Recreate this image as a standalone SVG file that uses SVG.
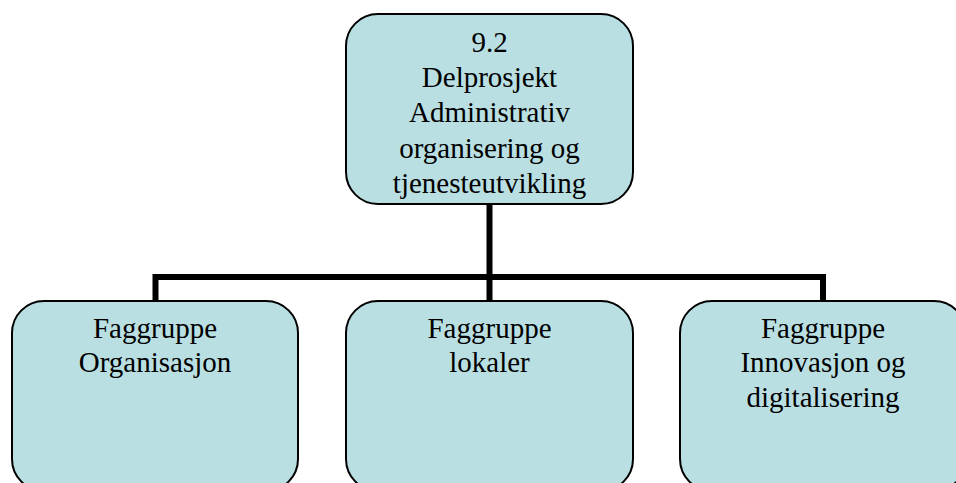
<svg xmlns="http://www.w3.org/2000/svg" width="956" height="483" viewBox="0 0 956 483">
<style>
.box{fill:#b9dfe2;stroke:#000;stroke-width:2}
text{font-family:'Liberation Serif',Tinos,'Times New Roman',Times,serif;font-size:29px;fill:#000;text-anchor:middle}
.c{stroke:#000;stroke-width:6;fill:none}
</style>
<rect width="956" height="483" fill="#fff"/>
<g id="connectors">
<line class="c" x1="489.5" y1="204" x2="489.5" y2="301"/>
<polyline class="c" points="155.5,301 155.5,277 823,277 823,301"/>
</g>
<g id="top" font-family="Liberation Serif, serif">
<rect class="box" x="346" y="14" width="287" height="190" rx="32"/>
<text x="489.5" y="52">9.2</text>
<text x="489.5" y="87">Delprosjekt</text>
<text x="489.5" y="122">Administrativ</text>
<text x="489.5" y="158">organisering og</text>
<text x="489.5" y="193">tjenesteutvikling</text>
</g>
<g id="org">
<rect class="box" x="12" y="301" width="286" height="190" rx="32"/>
<text x="155" y="338">Faggruppe</text>
<text x="155" y="372">Organisasjon</text>
</g>
<g id="lokaler">
<rect class="box" x="346" y="301" width="287" height="190" rx="32"/>
<text x="489.5" y="338">Faggruppe</text>
<text x="489.5" y="372">lokaler</text>
</g>
<g id="innovasjon">
<rect class="box" x="680" y="301" width="286" height="190" rx="32"/>
<text x="823" y="338">Faggruppe</text>
<text x="823" y="372">Innovasjon og</text>
<text x="823" y="407">digitalisering</text>
</g>
</svg>
